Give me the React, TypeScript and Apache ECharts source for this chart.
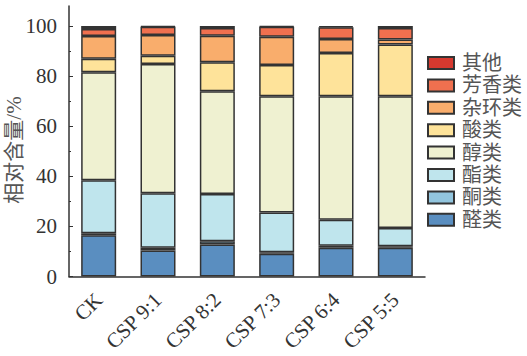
import React, { useEffect, useRef } from "react";
import * as echarts from "echarts";

const categories = ["CK", "CSP 9:1", "CSP 8:2", "CSP 7:3", "CSP 6:4", "CSP 5:5"];
const seriesNames = ["醛类", "酮类", "酯类", "醇类", "酸类", "杂环类", "芳香类", "其他"];
const aldehydes = [16.5, 10.4, 12.8, 9.1, 11.5, 11.5];
const ketones = [0.8, 1.1, 1.3, 0.6, 0.8, 0.6];
const esters = [21.1, 21.7, 18.8, 15.9, 10.4, 7.3];
const alcohols = [43.1, 51.6, 41.1, 46.4, 49.3, 52.6];
const acids = [5.4, 3.3, 11.5, 12.4, 17.2, 20.6];
const heterocycles = [9.1, 8.3, 10.6, 11.3, 5.6, 2.0];
const aromatics = [2.8, 3.3, 3.1, 4.0, 4.7, 4.6];
const others = [1.2, 0.3, 0.8, 0.3, 0.5, 0.8];
const seriesValues = [aldehydes, ketones, esters, alcohols, acids, heterocycles, aromatics, others];
const colors = ["#5a8ec0", "#92c5de", "#bfe5ed", "#eff1d1", "#fee39a", "#f9ad6c", "#f0704f", "#d7392f"];
const majorTicks = [0, 20, 40, 60, 80, 100];
const minorTicks = [10, 30, 50, 70, 90];
const yAxisTitle = "相对含量/%";

const FONT = "'Liberation Serif', 'Noto Sans CJK SC', serif";

export default function App() {
  const ref = useRef<HTMLDivElement>(null);
  useEffect(() => {
    document.body.style.margin = "0";
    const chart = echarts.init(ref.current!, undefined, { renderer: "svg" });
    chart.setOption({
      animation: false,
      backgroundColor: "#ffffff",
      grid: { left: 69, right: 102, top: 6, bottom: 79.5 },
      graphic: [
        {
          type: "text",
          x: 14,
          y: 150,
          rotation: Math.PI / 2,
          style: {
            text: yAxisTitle,
            font: "21px " + FONT,
            fill: "#555",
            align: "center",
            verticalAlign: "middle",
          },
        },
      ],
      legend: {
        orient: "vertical",
        left: 427,
        top: 53,
        padding: 0,
        itemWidth: 26,
        itemHeight: 12,
        itemGap: 2.4,
        icon: "rect",
        data: seriesNames.slice().reverse(),
        textStyle: { fontFamily: FONT, fontSize: 20, color: "#555", lineHeight: 20, padding: [0, 0, 0, 3] },
      },
      xAxis: {
        type: "category",
        data: categories,
        axisLine: { lineStyle: { color: "#333", width: 1.5 } },
        axisTick: { show: false },
        axisLabel: { rotate: 45, margin: 20, fontFamily: FONT, fontSize: 21, color: "#333" },
      },
      yAxis: [
        {
          type: "value",
          min: 0,
          max: 108,
          axisLine: { show: true, lineStyle: { color: "#333", width: 1.5 } },
          axisTick: { show: true, inside: true, length: 4, customValues: majorTicks, lineStyle: { color: "#333" } },
          axisLabel: { customValues: majorTicks, margin: 12, fontFamily: FONT, fontSize: 21, color: "#333" },
          splitLine: { show: false },
        },
        {
          type: "value",
          min: 0,
          max: 108,
          position: "left",
          axisLine: { show: false },
          axisTick: { show: true, inside: true, length: 2, customValues: minorTicks, lineStyle: { color: "#333" } },
          axisLabel: { show: false },
          splitLine: { show: false },
        },
      ],
      series: seriesNames.map((name, i) => ({
        name,
        type: "bar",
        stack: "total",
        barWidth: 35,
        data: seriesValues[i],
        itemStyle: { color: colors[i], borderColor: "#333", borderWidth: 1.5 },
      })),
    });
    return () => chart.dispose();
  }, []);
  return <div ref={ref} style={{ width: 527, height: 356 }} />;
}
